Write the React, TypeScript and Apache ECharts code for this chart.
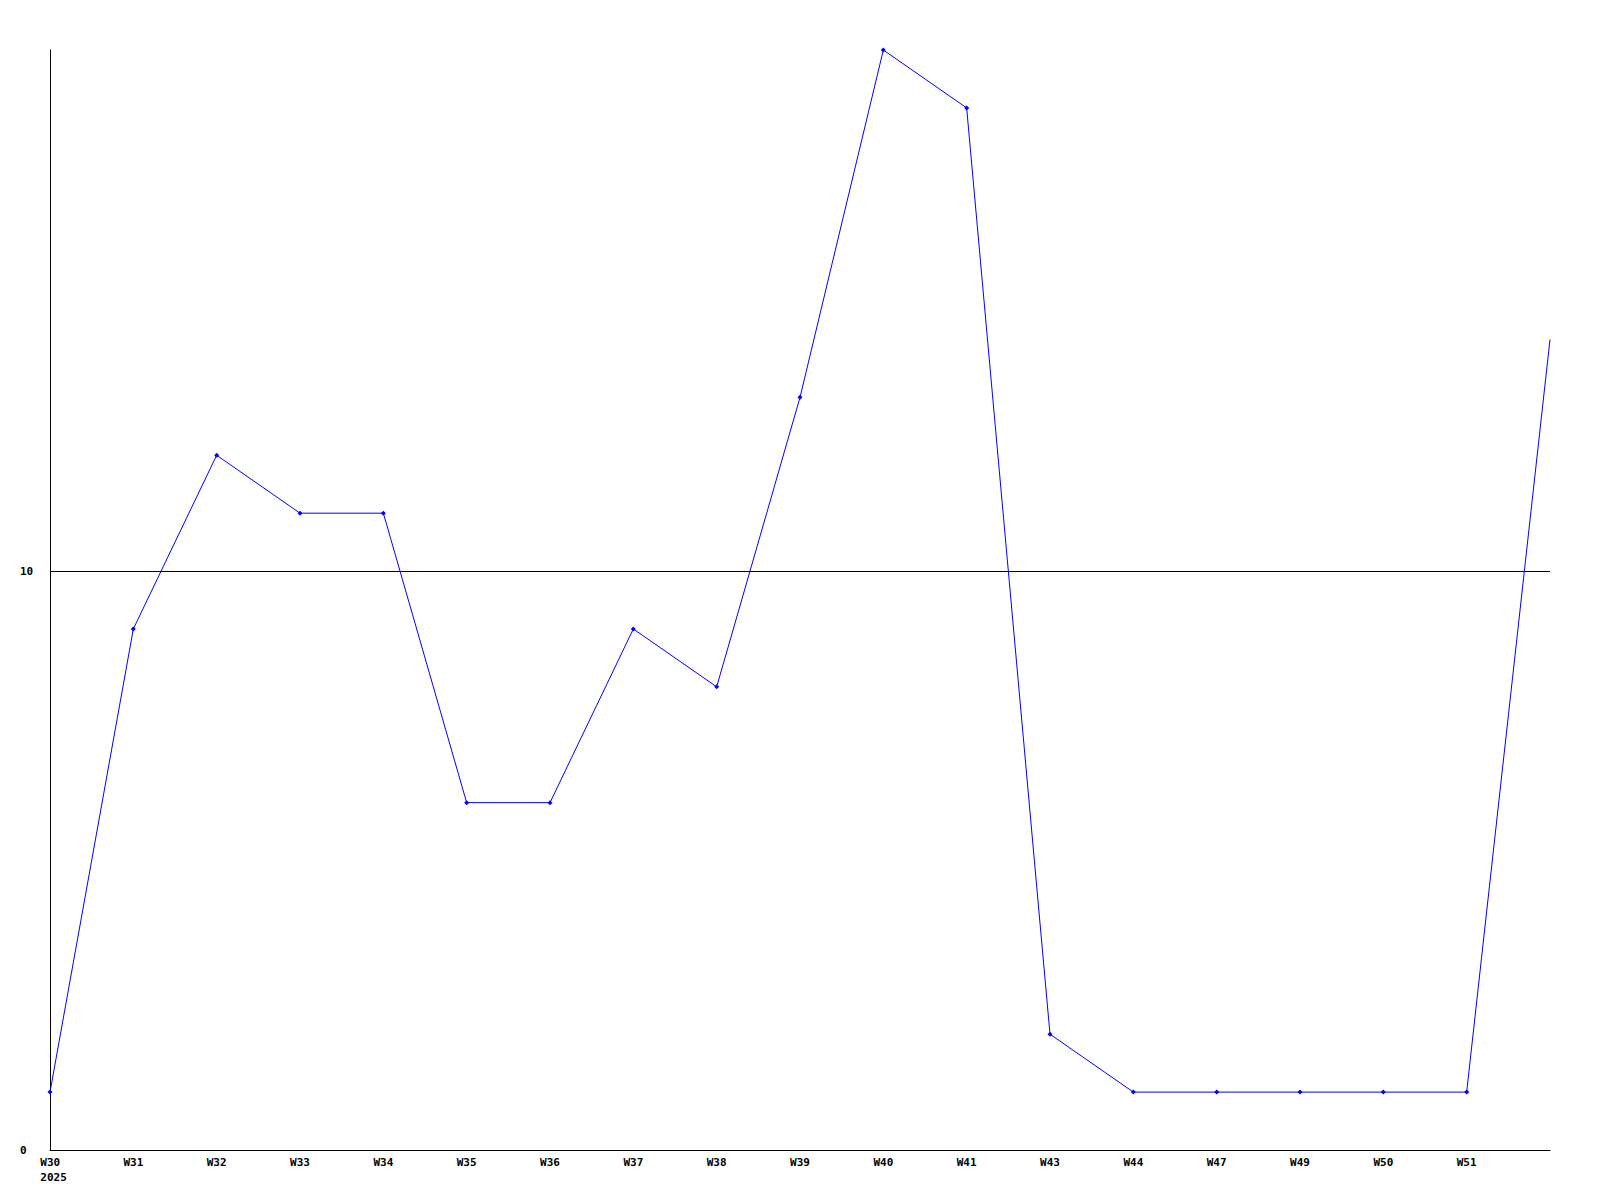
import React, { useEffect, useRef } from "react";
import * as echarts from "echarts";

const categories = ["W30", "W31", "W32", "W33", "W34", "W35", "W36", "W37", "W38", "W39", "W40", "W41", "W43", "W44", "W47", "W49", "W50", "W51", "W52"];
const values = [1, 9, 12, 11, 11, 6, 6, 9, 8, 13, 19, 18, 2, 1, 1, 1, 1, 1, 14];
const yearLabel = "2025";
const yTicks = [0, 10];
const referenceLine = 10;

export default function App() {
  const ref = useRef<HTMLDivElement>(null);
  useEffect(() => {
    document.body.style.margin = "0";
    const chart = echarts.init(ref.current!, null, { renderer: "svg" });
    const font = "DejaVu Sans Mono";
    const last = values.length - 1;
    chart.setOption({
      animation: false,
      backgroundColor: "#ffffff",
      grid: { left: 50, right: 50, top: 50, bottom: 50, containLabel: false },
      xAxis: {
        type: "category",
        data: categories,
        boundaryGap: false,
        axisLine: { lineStyle: { color: "#000", width: 1 } },
        axisTick: { show: false },
        splitLine: { show: false },
        axisLabel: {
          interval: 0,
          margin: 7,
          color: "#000",
          fontFamily: font,
          fontWeight: "bold",
          fontSize: 11,
          formatter: (v: string, i: number) => {
            if (i === categories.length - 1) return "";
            if (i === 0) return "{a|" + v + "}\n{b|" + yearLabel + "}";
            return v;
          },
          rich: {
            a: { align: "left", padding: [0, 0, 0, 7], fontFamily: font, fontWeight: "bold", fontSize: 11, color: "#000", lineHeight: 11 },
            b: { align: "left", padding: [0, 0, 0, 7], fontFamily: font, fontWeight: "bold", fontSize: 11, color: "#000", lineHeight: 18 },
          },
        },
      },
      yAxis: {
        type: "value",
        min: 0,
        max: 19,
        interval: 10,
        axisLine: { show: true, lineStyle: { color: "#000", width: 1 } },
        axisTick: { show: false },
        splitLine: { show: false },
        axisLabel: {
          align: "left",
          margin: 30,
          color: "#000",
          fontFamily: font,
          fontWeight: "bold",
          fontSize: 11,
          formatter: (v: number) => (yTicks.includes(v) ? String(v) : ""),
        },
      },
      series: [
        {
          type: "line",
          data: values.map((v, i) => (i === last ? { value: v, symbol: "none" } : v)),
          symbol: "diamond",
          symbolSize: 5,
          showAllSymbol: true,
          lineStyle: { color: "#0000ff", width: 1 },
          itemStyle: { color: "#0000ff" },
          markLine: {
            silent: true,
            symbol: ["none", "none"],
            label: { show: false },
            lineStyle: { color: "#000", width: 1, type: "solid" },
            data: [{ yAxis: referenceLine }],
          },
        },
      ],
    });
    return () => chart.dispose();
  }, []);
  return <div ref={ref} style={{ width: 1600, height: 1200 }} />;
}
